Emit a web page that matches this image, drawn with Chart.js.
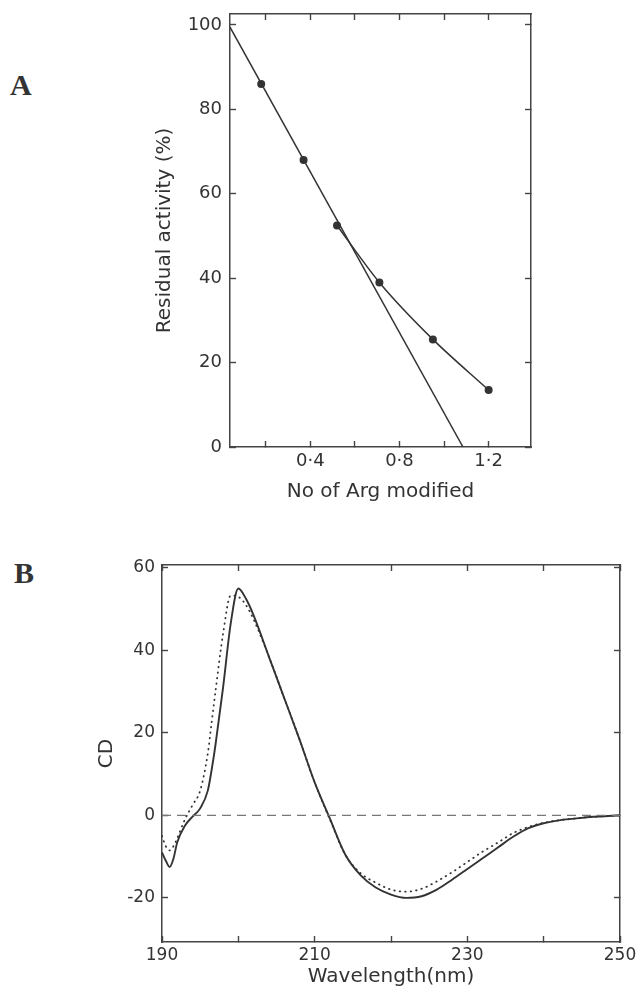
<!DOCTYPE html>
<html><head><meta charset="utf-8">
<script src="https://cdn.jsdelivr.net/npm/chart.js@4"></script>
<style>
html,body{margin:0;padding:0;background:#fff;width:640px;height:995px;overflow:hidden;position:relative}
canvas{position:absolute;left:0}
#cA{top:0}
#cB{top:520px}
.lbl{position:absolute;font-family:"Liberation Serif","Times New Roman",serif;font-weight:bold;font-size:30px;line-height:30px;color:#333}
</style></head><body>
<div class="lbl" style="left:10px;top:70px">A</div>
<div class="lbl" style="left:14px;top:558px">B</div>
<canvas id="cA" width="640" height="520"></canvas>
<canvas id="cB" width="640" height="475"></canvas>
<script>
// ---------- Panel A data ----------
const argModified      = [0.18, 0.37, 0.52, 0.71, 0.95, 1.2];
const residualActivity = [86, 68, 52.5, 39, 25.5, 13.5];
const fitLineX = [0.04, 1.085];
const fitLineY = [99.5, 0];
const xTicksA  = [0.2, 0.4, 0.6, 0.8, 1.0, 1.2];
const xLabelsA = [0.4, 0.8, 1.2];
const yTicksA  = [0, 20, 40, 60, 80, 100];

// ---------- Panel B data ----------
const wavelength = [190,190.5,191,191.5,192,193,194,195,196,196.5,197,198,199,200,201,202,204,206,208,210,212,214,216,218,220,222,224,226,228,230,232,234,236,238,240,242,244,246,248,250];
const cdSolid    = [-9,-11,-12.5,-10.5,-6.5,-2.5,-0.3,1.7,6,11,17,31,46.5,55,52.5,48.5,38.5,28.5,18.5,8,-0.8,-9.5,-14.5,-17.5,-19.2,-20,-19.6,-18,-15.6,-13,-10.4,-7.8,-5.2,-3.1,-1.9,-1.2,-0.8,-0.4,-0.2,0];
const cdDotted   = [-5,-7.5,-8.5,-7.5,-5.5,-1,2.5,6,15,22.5,30,44,53.3,53,51,47.5,38.5,28.5,18.5,8,-1,-9.5,-14,-16.3,-18,-18.5,-17.8,-16,-13.8,-11.3,-8.8,-6.6,-4.3,-2.8,-1.8,-1.2,-0.8,-0.4,-0.2,0];
const baselineX  = [190, 250];
const baselineY  = [0, 0];
const xTicksB  = [190, 200, 210, 220, 230, 240, 250];
const xLabelsB = [190, 210, 230, 250];
const yTicksB  = [-20, 0, 20, 40, 60];

const INK = '#333';
const AX = '#444';
const FONT = '"DejaVu Sans", sans-serif';

function pts(xs, ys) { return xs.map((x, i) => ({x: x, y: ys[i]})); }

function makeAxis(o) {
  return {
    type: 'linear',
    position: o.position,
    min: o.min, max: o.max,
    afterBuildTicks: s => { s.ticks = o.ticks.map(v => ({value: v})); },
    afterFit: s => {
      if (o.width !== undefined) s.width = o.width;
      if (o.height !== undefined) s.height = o.height;
      s.paddingTop = 0; s.paddingBottom = 0; s.paddingLeft = 0; s.paddingRight = 0;
    },
    border: {display: true, color: AX, width: 1.5},
    grid: {display: true, drawOnChartArea: false, drawTicks: true, tickLength: -6, tickColor: AX, tickWidth: 1.4},
    ticks: {
      display: !!o.labels,
      padding: o.pad || 10,
      color: INK,
      font: {family: FONT, size: o.fontSize || 18},
      maxRotation: 0, autoSkip: false,
      callback: o.fmt || (v => v)
    },
    title: o.title ? {display: true, text: o.title, color: INK, font: {family: FONT, size: 20}, padding: o.titlePad} : {display: false}
  };
}

Chart.defaults.animation = false;

// ---------- Chart A ----------
new Chart(document.getElementById('cA'), {
  type: 'scatter',
  data: {
    datasets: [
      {data: pts(fitLineX, fitLineY), showLine: true, borderColor: INK, borderWidth: 1.5, pointRadius: 0, fill: false},
      {data: pts(argModified.slice(2), residualActivity.slice(2)), showLine: true, borderColor: INK, borderWidth: 1.5, pointRadius: 0, cubicInterpolationMode: 'monotone', fill: false},
      {data: pts(argModified, residualActivity), showLine: false, pointRadius: 4, pointBackgroundColor: INK, pointBorderColor: INK, pointBorderWidth: 0}
    ]
  },
  options: {
    responsive: false,
    layout: {padding: {left: 153, right: 109, top: 14, bottom: 0}},
    plugins: {legend: {display: false}, tooltip: {enabled: false}},
    scales: {
      x: makeAxis({position: 'bottom', min: 0.04, max: 1.39, ticks: xTicksA, labels: true, height: 73, pad: 10,
        fmt: v => xLabelsA.includes(v) ? v.toFixed(1).replace('.', '\u00B7') : '',
        title: 'No of Arg modified', titlePad: {top: 0, bottom: 16}}),
      y: makeAxis({position: 'left', min: 0, max: 102.6, ticks: yTicksA, labels: true, width: 77, pad: 14,
        title: 'Residual activity (%)', titlePad: {top: 0, bottom: 0}}),
      x2: makeAxis({position: 'top', min: 0.04, max: 1.39, ticks: xTicksA, labels: false, height: 0}),
      y2: makeAxis({position: 'right', min: 0, max: 102.6, ticks: yTicksA, labels: false, width: 0})
    }
  }
});

// ---------- Chart B ----------
new Chart(document.getElementById('cB'), {
  type: 'scatter',
  data: {
    datasets: [
      {data: pts(baselineX, baselineY), showLine: true, borderColor: '#777', borderWidth: 1.4, borderDash: [9, 6], pointRadius: 0},
      {data: pts(wavelength, cdDotted), showLine: true, borderColor: INK, borderWidth: 1.8, borderDash: [0.5, 5], borderCapStyle: 'round', pointRadius: 0, cubicInterpolationMode: 'monotone'},
      {data: pts(wavelength, cdSolid), showLine: true, borderColor: INK, borderWidth: 1.9, pointRadius: 0, cubicInterpolationMode: 'monotone'}
    ]
  },
  options: {
    responsive: false,
    layout: {padding: {left: 95, right: 20, top: 45, bottom: 0}},
    plugins: {legend: {display: false}, tooltip: {enabled: false}},
    scales: {
      x: makeAxis({position: 'bottom', min: 190, max: 250, ticks: xTicksB, labels: true, height: 53, pad: 9, fontSize: 17,
        fmt: v => xLabelsB.includes(v) ? String(v) : '',
        title: 'Wavelength(nm)', titlePad: {top: 0, bottom: 6}}),
      y: makeAxis({position: 'left', min: -30.7, max: 60.7, ticks: yTicksB, labels: true, width: 67, pad: 13, fontSize: 17,
        title: 'CD', titlePad: {top: 0, bottom: 0}}),
      x2: makeAxis({position: 'top', min: 190, max: 250, ticks: xTicksB, labels: false, height: 0}),
      y2: makeAxis({position: 'right', min: -30.7, max: 60.7, ticks: yTicksB, labels: false, width: 0})
    }
  }
});
</script>
</body></html>
